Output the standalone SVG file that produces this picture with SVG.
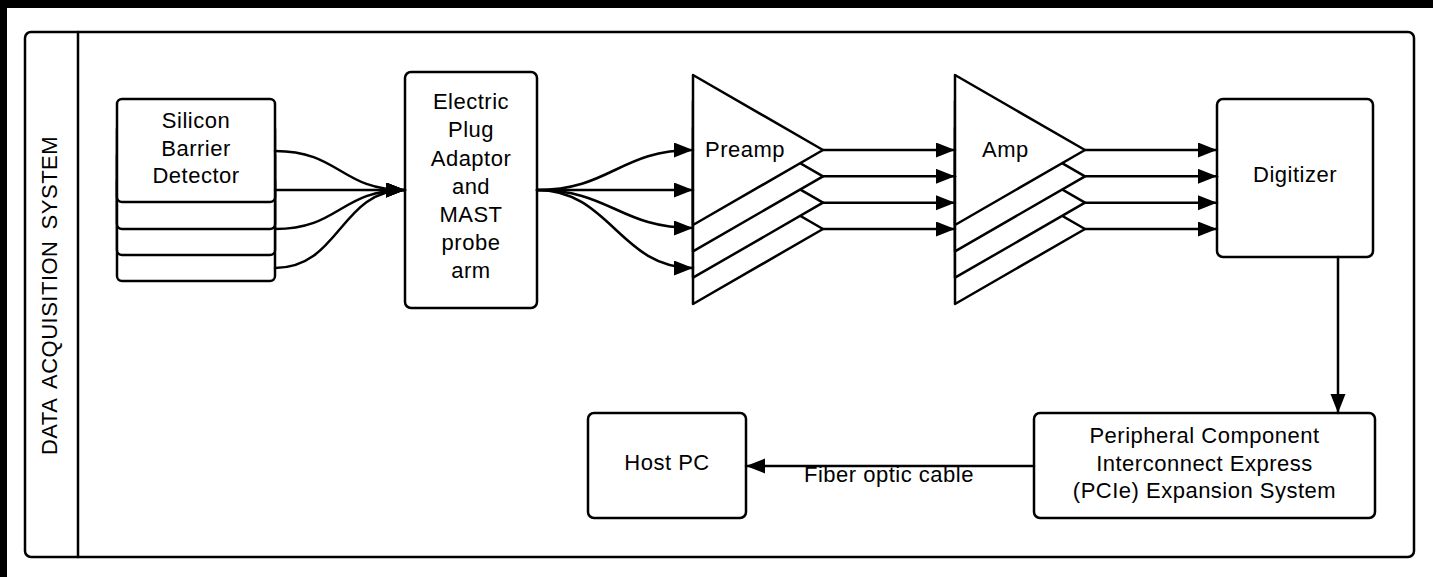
<svg xmlns="http://www.w3.org/2000/svg" width="1433" height="577" viewBox="0 0 1433 577">
<style>
.ln{fill:none;stroke:#000;stroke-width:2.5;stroke-linejoin:round;stroke-linecap:round}
.bx{fill:#fff;stroke:#000;stroke-width:2.5;stroke-linejoin:round}
.t{font-family:"Liberation Sans",Arial,sans-serif;font-size:22px;letter-spacing:0.5px;fill:#000}
.c{text-anchor:middle}
</style>
<defs>
<marker id="ah" markerUnits="userSpaceOnUse" markerWidth="20" markerHeight="16" refX="19" refY="7.5" orient="auto">
<path d="M0,0 L19,7.5 L0,15 z" fill="#000"/>
</marker>
<polygon id="tri" points="0,0 130,75 0,150"/>
</defs>
<rect x="0" y="0" width="1433" height="577" fill="#fff"/>
<rect x="0" y="0" width="1433" height="8" fill="#000"/>
<rect x="0" y="0" width="7" height="577" fill="#000"/>

<g id="container">
<rect class="bx" x="25" y="32" width="1389" height="525" rx="6"/>
<line class="ln" x1="78" y1="32" x2="78" y2="557"/>
<text class="t c" transform="translate(57,295.5) rotate(-90)" word-spacing="4.5">DATA ACQUISITION SYSTEM</text>
</g>

<g id="silicon">
<rect class="bx" x="117" y="177" width="158" height="104" rx="5"/>
<rect class="bx" x="117" y="151" width="158" height="104" rx="5"/>
<rect class="bx" x="117" y="125" width="158" height="104" rx="5"/>
<rect class="bx" x="117" y="99" width="158" height="103" rx="5"/>
<text class="t c" x="196" y="128">Silicon</text>
<text class="t c" x="196" y="155.5">Barrier</text>
<text class="t c" x="196" y="183">Detector</text>
</g>

<g id="adaptor">
<rect class="bx" x="405" y="72" width="132" height="236" rx="6"/>
<text class="t c" x="471" y="109">Electric</text>
<text class="t c" x="471" y="137">Plug</text>
<text class="t c" x="471" y="165.5">Adaptor</text>
<text class="t c" x="471" y="194">and</text>
<text class="t c" x="471" y="222">MAST</text>
<text class="t c" x="471" y="250">probe</text>
<text class="t c" x="471" y="278">arm</text>
</g>

<g id="preamp">
<use href="#tri" class="bx" x="693" y="154"/>
<use href="#tri" class="bx" x="693" y="127.7"/>
<use href="#tri" class="bx" x="693" y="101.3"/>
<use href="#tri" class="bx" x="693" y="75"/>
<text class="t" x="705" y="157">Preamp</text>
</g>

<g id="amp">
<use href="#tri" class="bx" x="955" y="154"/>
<use href="#tri" class="bx" x="955" y="127.7"/>
<use href="#tri" class="bx" x="955" y="101.3"/>
<use href="#tri" class="bx" x="955" y="75"/>
<text class="t" x="982" y="157">Amp</text>
</g>

<g id="digitizer">
<rect class="bx" x="1217" y="99" width="156" height="158" rx="6"/>
<text class="t c" x="1295" y="182">Digitizer</text>
</g>

<g id="pcie">
<rect class="bx" x="1034" y="413" width="341" height="105" rx="6"/>
<text class="t c" x="1204.5" y="443">Peripheral Component</text>
<text class="t c" x="1204.5" y="470.5">Interconnect Express</text>
<text class="t c" x="1204.5" y="498">(PCIe) Expansion System</text>
</g>

<g id="hostpc">
<rect class="bx" x="588" y="413" width="158" height="105" rx="6"/>
<text class="t c" x="667" y="470">Host PC</text>
</g>

<g id="connectors">
<path class="ln" d="M275,151 C340,151 340,190 405,190" marker-end="url(#ah)"/>
<path class="ln" d="M275,190 L405,190" marker-end="url(#ah)"/>
<path class="ln" d="M275,229 C340,229 340,190 405,190" marker-end="url(#ah)"/>
<path class="ln" d="M275,268 C340,268 340,190 405,190" marker-end="url(#ah)"/>

<path class="ln" d="M537,190 C610,190 620,150 693,150" marker-end="url(#ah)"/>
<path class="ln" d="M537,190 L693,190" marker-end="url(#ah)"/>
<path class="ln" d="M537,190 C610,190 620,228 693,228" marker-end="url(#ah)"/>
<path class="ln" d="M537,190 C610,190 620,268 693,268" marker-end="url(#ah)"/>

<path class="ln" d="M823,150 L955,150" marker-end="url(#ah)"/>
<path class="ln" d="M823,176.3 L955,176.3" marker-end="url(#ah)"/>
<path class="ln" d="M823,202.7 L955,202.7" marker-end="url(#ah)"/>
<path class="ln" d="M823,229 L955,229" marker-end="url(#ah)"/>

<path class="ln" d="M1085,150 L1217,150" marker-end="url(#ah)"/>
<path class="ln" d="M1085,176.3 L1217,176.3" marker-end="url(#ah)"/>
<path class="ln" d="M1085,202.7 L1217,202.7" marker-end="url(#ah)"/>
<path class="ln" d="M1085,229 L1217,229" marker-end="url(#ah)"/>

<path class="ln" d="M1338,257 L1338,413" marker-end="url(#ah)"/>
<path class="ln" d="M1034,466 L746,466" marker-end="url(#ah)"/>
<text class="t" x="804" y="482">Fiber optic cable</text>
</g>
</svg>
